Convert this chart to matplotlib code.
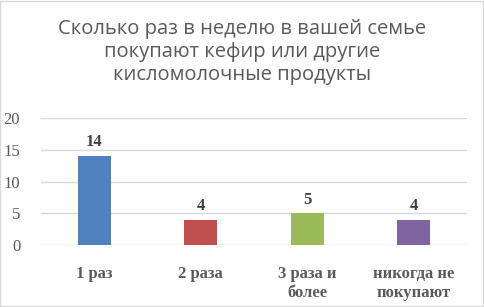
import matplotlib.pyplot as plt

categories = ["1 раз", "2 раза", "3 раза и\nболее", "никогда не\nпокупают"]
values = [14, 4, 5, 4]
colors = ["#4F81BD", "#C0504D", "#9BBB59", "#8064A2"]
title = "Сколько раз в неделю в вашей семье\nпокупают кефир или другие\nкисломолочные продукты"

fig = plt.figure(figsize=(4.84, 3.07), dpi=100)
ax = fig.add_axes([41 / 484, 1 - 245 / 307, 426 / 484, 127 / 307])

x = range(len(values))
bars = ax.bar(x, values, width=0.31, color=colors, zorder=3)
for i, v in enumerate(values):
    ax.text(i, v + 0.9, str(v), ha="center", va="bottom",
            family="Liberation Serif", fontweight="bold", fontsize=12, color="#404040")

ax.set_xlim(-0.5, len(values) - 0.5)
ax.set_ylim(0, 20)
ax.set_yticks([0, 5, 10, 15, 20])
ax.yaxis.grid(True, color="#D9D9D9", linewidth=1, zorder=0)
for s in ax.spines.values():
    s.set_visible(False)
ax.tick_params(length=0)
ax.set_xticks(list(x))
ax.set_xticklabels(categories, family="Liberation Serif", fontweight="bold",
                   fontsize=12, color="#595959", linespacing=1.3)
for lab in ax.get_yticklabels():
    lab.set_family("Liberation Serif")
    lab.set_fontsize(12)
    lab.set_color("#595959")
ax.tick_params(axis="x", pad=15)
ax.tick_params(axis="y", pad=15)

fig.text(0.5, 1 - 52 / 307, title, ha="center", va="center", fontsize=14.5,
         family="Open Sans", color="#595959", linespacing=1.2)

fig.patches.append(plt.Rectangle((0.001, 0.002), 0.997, 0.995, transform=fig.transFigure,
                                 fill=False, edgecolor="#D9D9D9", linewidth=1))
fig.savefig("out.png", dpi=100)
